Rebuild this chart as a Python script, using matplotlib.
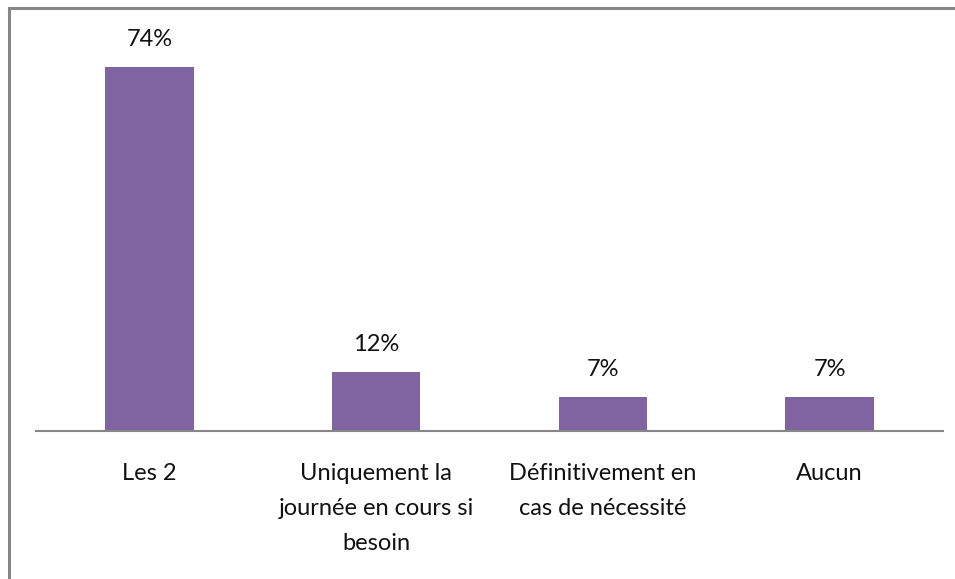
import matplotlib.pyplot as plt
from matplotlib.lines import Line2D

categories = ["Les 2",
              "Uniquement la\njournée en cours si\nbesoin",
              "Définitivement en\ncas de nécessité",
              "Aucun"]
values = [74, 12, 7, 7]

plt.rcParams['font.family'] = ['Lato', 'DejaVu Sans']

fig = plt.figure(figsize=(9.55, 5.79), dpi=100)
W, H = 955, 579

# plot area in pixels: baseline at y=431, from x=36 to x=943
left, right, base, top = 36, 943, 431, 30
ax = fig.add_axes([left / W, (H - base) / H, (right - left) / W, (base - top) / H])

x = range(len(categories))
ax.bar(x, values, width=0.39, color="#8064A2")
ax.set_xlim(-0.5, len(categories) - 0.5)
ax.set_ylim(0, (base - top) / 4.92)

for xi, v in zip(x, values):
    ax.annotate(f"{v}%", (xi, v), xytext=(0, 12), textcoords="offset points",
                ha="center", va="bottom", fontsize=17, color="#111111")

for xi, lab in zip(x, categories):
    ax.annotate(lab, (xi, 0), xytext=(0, -23), textcoords="offset points",
                ha="center", va="top", fontsize=17, color="#111111",
                linespacing=1.83, annotation_clip=False)

for s in ["top", "right", "left"]:
    ax.spines[s].set_visible(False)
ax.spines["bottom"].set_color("#868686")
ax.spines["bottom"].set_linewidth(1.5)
ax.set_xticks([])
ax.set_yticks([])

# chart frame: only the top and left edges fall inside the image
fig.add_artist(Line2D([8.5 / W, 8.5 / W], [0, 1 - 7.5 / H], transform=fig.transFigure,
                      color="#868686", lw=2.2))
fig.add_artist(Line2D([8.5 / W, 1], [1 - 7.5 / H, 1 - 7.5 / H], transform=fig.transFigure,
                      color="#868686", lw=2.2))

fig.savefig("out.png", dpi=100, facecolor="white")
